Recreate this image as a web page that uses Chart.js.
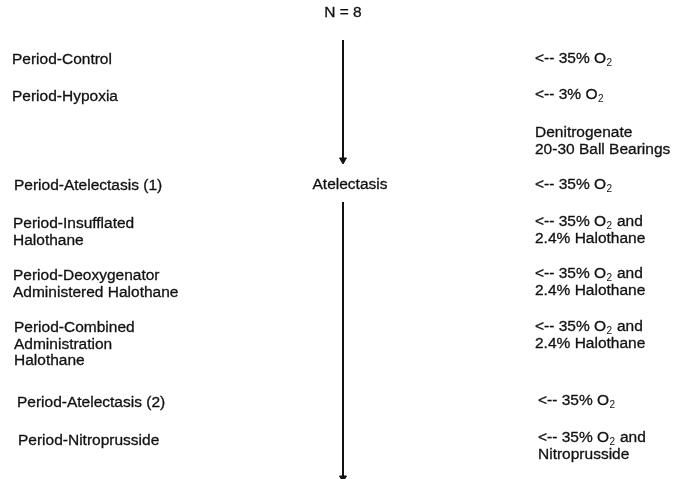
<!DOCTYPE html>
<html>
<head>
<meta charset="utf-8">
<script src="https://cdn.jsdelivr.net/npm/chart.js@4"></script>
<style>
  html, body { margin: 0; padding: 0; background: #fff; }
</style>
</head>
<body>
<canvas id="flowChart" width="673" height="479"></canvas>
<script>
// study periods (left column) and the gas given in each (right column)
const periodLabels = [
    ['Period-Control'],
    ['Period-Hypoxia'],
    ['Period-Atelectasis (1)'],
    ['Period-Insufflated', 'Halothane'],
    ['Period-Deoxygenator', 'Administered Halothane'],
    ['Period-Combined', 'Administration', 'Halothane'],
    ['Period-Atelectasis (2)'],
    ['Period-Nitroprusside']
];
const periodRows = [60, 97, 186, 224, 276, 328, 403, 441];

const gasLabels = [
    ['<-- 35% O_2'],
    ['<-- 3% O_2'],
    ['Denitrogenate', '20-30 Ball Bearings'],
    ['<-- 35% O_2'],
    ['<-- 35% O_2 and', '2.4% Halothane'],
    ['<-- 35% O_2 and', '2.4% Halothane'],
    ['<-- 35% O_2 and', '2.4% Halothane'],
    ['<-- 35% O_2'],
    ['<-- 35% O_2 and', 'Nitroprusside']
];
const gasRows = [59, 95, 133, 185, 222, 274, 327, 401, 438];

const centerLabels = ['N = 8', 'Atelectasis'];
const centerRows = [13, 185];

// the two arrows of the timeline: [start, end]
const arrowSpans = [[40, 160], [202, 478]];

document.addEventListener("DOMContentLoaded", function () {
    const ctx = document.getElementById('flowChart').getContext("2d");
    const FONT = '15.5px "Liberation Sans", Arial, sans-serif';
    const SUB = '10px "Liberation Sans", Arial, sans-serif';
    const LINE_H = 16.5;
    // the scanned page is slightly skewed, so columns drift a little
    const periodX = [12, 12, 14, 13, 13, 14, 17, 18];
    const gasX = [535, 535, 535, 535, 535, 535, 535, 538, 538];

    function drawRich(c, text, x, y) {
        // "_2" marks a subscript digit
        const parts = text.split(/(_\d)/);
        let cx = x;
        parts.forEach(p => {
            if (!p) return;
            if (p[0] === '_') {
                c.font = SUB;
                c.fillText(p.slice(1), cx + 0.5, y + 4);
                cx += c.measureText(p.slice(1)).width + 1;
            } else {
                c.font = FONT;
                c.fillText(p, cx, y);
                c.strokeText(p, cx, y);
                cx += c.measureText(p).width;
            }
        });
    }

    const textPlugin = {
        id: 'flowText',
        afterDraw(chart) {
            const c = chart.ctx;
            const xs = chart.scales.x, ys = chart.scales.y;
            c.save();
            c.fillStyle = '#111';
            c.strokeStyle = '#111';
            c.lineWidth = 0.3;
            c.textBaseline = 'middle';
            c.textAlign = 'left';
            periodLabels.forEach((lines, i) => {
                lines.forEach((line, j) => {
                    drawRich(c, line, xs.getPixelForValue(periodX[i]), ys.getPixelForValue(periodRows[i] + j * LINE_H));
                });
            });
            gasLabels.forEach((lines, i) => {
                lines.forEach((line, j) => {
                    drawRich(c, line, xs.getPixelForValue(gasX[i]), ys.getPixelForValue(gasRows[i] + j * LINE_H));
                });
            });
            c.textAlign = 'center';
            c.font = FONT;
            c.fillText(centerLabels[0], xs.getPixelForValue(343), ys.getPixelForValue(centerRows[0]));
            c.strokeText(centerLabels[0], xs.getPixelForValue(343), ys.getPixelForValue(centerRows[0]));
            c.fillText(centerLabels[1], xs.getPixelForValue(350), ys.getPixelForValue(centerRows[1]));
            c.strokeText(centerLabels[1], xs.getPixelForValue(350), ys.getPixelForValue(centerRows[1]));
            c.restore();
        }
    };

    new Chart(ctx, {
        type: 'scatter',
        data: {
            datasets: arrowSpans.map(span => ({
                data: [{ x: 343, y: span[0] }, { x: 343, y: span[1] }],
                showLine: true,
                borderColor: '#111',
                borderWidth: 2,
                pointStyle: 'triangle',
                pointRadius: [0, 4],
                pointRotation: 180,
                pointBackgroundColor: '#111',
                pointBorderColor: '#111',
                pointBorderWidth: 1
            }))
        },
        options: {
            responsive: false,
            animation: false,
            layout: { padding: 0, autoPadding: false },
            plugins: {
                legend: { display: false },
                tooltip: { enabled: false }
            },
            scales: {
                x: { type: 'linear', min: 0, max: 673, display: false },
                y: { type: 'linear', min: 0, max: 479, reverse: true, display: false }
            }
        },
        plugins: [textPlugin]
    });
});
</script>
</body>
</html>
